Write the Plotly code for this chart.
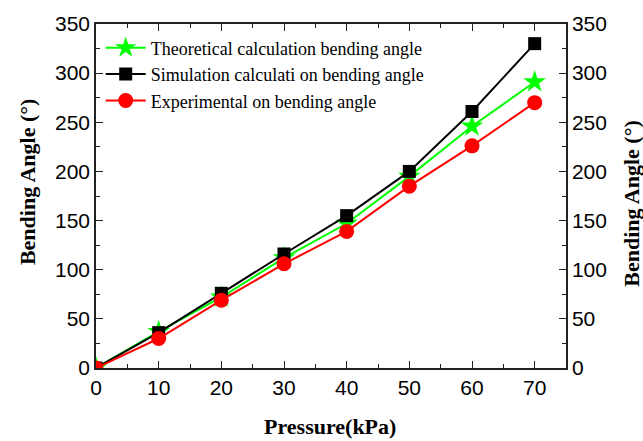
import plotly.graph_objects as go

pressure = [0, 10, 20, 30, 40, 50, 60, 70]
theoretical = [0, 37, 72, 112, 147, 195, 246, 291]
simulation = [0, 36, 76, 116, 155, 200, 261, 330]
experimental = [0, 30, 69, 106, 139, 185, 226, 270]

names = ["Theoretical calculation bending angle",
         "Simulation calculati on bending angle",
         "Experimental on bending angle"]
x_ticks = [0, 10, 20, 30, 40, 50, 60, 70]
y_ticks = [0, 50, 100, 150, 200, 250, 300, 350]

fig = go.Figure()
fig.add_trace(go.Scatter(x=pressure, y=theoretical, name=names[0], mode="lines+markers",
                         line=dict(color="#00ff00", width=2),
                         marker=dict(symbol="star", size=17, color="#00ff00")))
fig.add_trace(go.Scatter(x=pressure, y=simulation, name=names[1], mode="lines+markers",
                         line=dict(color="black", width=2),
                         marker=dict(symbol="square", size=13, color="black")))
fig.add_trace(go.Scatter(x=pressure, y=experimental, name=names[2], mode="lines+markers",
                         line=dict(color="#ff0000", width=2),
                         marker=dict(symbol="circle", size=15, color="#ff0000")))
fig.add_trace(go.Scatter(x=[None], y=[None], yaxis="y2", showlegend=False, hoverinfo="skip"))

tickfont = dict(family="Liberation Sans", size=21, color="black")
axis_common = dict(showline=True, linecolor="#222", linewidth=1.5, ticks="inside",
                   ticklen=7, tickwidth=1.2, tickcolor="#222", showgrid=False,
                   zeroline=False, tickfont=tickfont)

fig.update_layout(
    width=643, height=441,
    margin=dict(l=96, r=77, t=22, b=73),
    plot_bgcolor="white", paper_bgcolor="white",
    xaxis=dict(range=[0, 75], tickvals=x_ticks, mirror="ticks",
               minor=dict(ticks="inside", ticklen=4, dtick=5, tick0=0, tickcolor="#222"),
               **axis_common),
    yaxis=dict(range=[0, 350], tickvals=y_ticks,
               minor=dict(ticks="inside", ticklen=4, dtick=25, tick0=0, tickcolor="#222"),
               **axis_common),
    yaxis2=dict(range=[0, 350], tickvals=y_ticks, overlaying="y", side="right",
                minor=dict(ticks="inside", ticklen=4, dtick=25, tick0=0, tickcolor="#222"),
                **axis_common),
    legend=dict(x=0.01, y=0.984, xanchor="left", yanchor="top", itemwidth=40,
                bgcolor="rgba(0,0,0,0)", tracegroupgap=0,
                font=dict(family="Liberation Serif", size=18, color="black")),
    showlegend=True,
)

title_font = dict(family="Liberation Serif", size=22, color="black")
fig.add_annotation(text="<b>Pressure(kPa)</b>", xref="paper", yref="paper",
                   x=0.498, y=-0.17, xanchor="center", yanchor="middle",
                   showarrow=False, font=title_font)
fig.add_annotation(text="<b>Bending Angle (°)</b>", xref="paper", yref="paper",
                   x=-0.147, y=0.543, textangle=-90, xanchor="center", yanchor="middle",
                   showarrow=False, font=title_font)
fig.add_annotation(text="<b>Bending Angle (°)</b>", xref="paper", yref="paper",
                   x=1.14, y=0.48, textangle=-90, xanchor="center", yanchor="middle",
                   showarrow=False, font=title_font)

fig.write_html("out.html")
